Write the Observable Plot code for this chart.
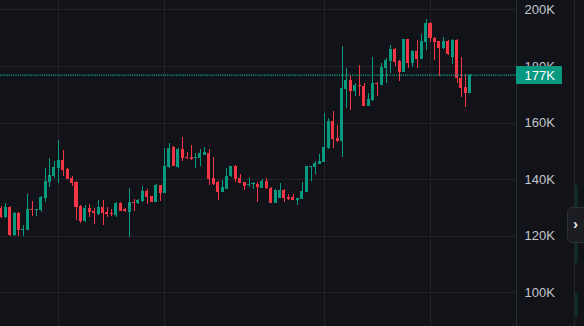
<!DOCTYPE html>
<html><head><meta charset="utf-8">
<script src="https://cdn.jsdelivr.net/npm/d3@7"></script>
<script src="https://cdn.jsdelivr.net/npm/@observablehq/plot@0.6"></script>
<style>
html,body{margin:0;padding:0;background:#121318;overflow:hidden}
#chart{position:relative;width:584px;height:326px}
#chart svg{display:block}
.sep{position:absolute;left:574px;top:0;width:1px;height:326px;background:#24262c}
.strip{position:absolute;left:575px;width:3px;background:#0f2a27}
.btn{position:absolute;left:567px;top:207px;width:22px;height:36px;background:#1b1d22;border:1px solid #2c2f36;border-radius:5px;box-sizing:border-box;color:#e6e8ec;font:bold 15px "Liberation Sans",Arial,sans-serif;line-height:32px;padding-left:5px}
</style></head><body><div id="chart"></div>
<script>
const opens = [129.9,126.6,130.2,120.3,128.1,121.9,122.1,129.5,129.1,129.1,
133.5,139.1,141.1,144.1,146.8,143.6,140.3,139.0,130.5,125.2,
129.7,128.8,127.7,130.2,128.5,128.2,127.4,131.6,129.5,128.3,
132.1,131.5,132.4,135.8,134.1,132.1,138.0,135.2,144.2,151.5,
144.4,150.7,148.0,148.0,147.6,147.5,148.7,149.4,140.4,138.9,
135.6,136.6,141.0,144.7,140.4,138.9,137.8,138.2,138.4,137.0,
139.4,136.9,131.6,133.4,136.3,133.8,133.8,132.7,133.0,135.6,
144.3,144.3,145.4,146.1,150.9,160.7,154.5,153.5,171.9,175.1,
171.3,173.3,172.9,166.0,168.0,174.1,173.3,179.4,181.9,186.0,
181.8,178.0,189.5,181.2,185.3,182.5,188.6,195.3,190.0,188.8,
186.2,189.0,183.2,189.2,175.7,172.5,170.6];
const highs = [130.5,131.6,130.7,128.4,128.4,123.8,134.8,132.3,129.6,134.2,
143.9,147.4,146.4,153.9,150.3,143.8,141.1,139.4,130.9,130.9,
131.2,129.7,132.7,132.7,130.3,129.5,131.8,131.8,129.9,137.0,
133.0,133.0,137.6,136.5,134.2,138.3,138.1,150.9,152.7,151.8,
150.9,155.0,149.5,152.1,149.3,150.7,151.3,150.7,147.7,139.5,
139.7,144.0,144.8,145.0,141.8,139.0,140.4,138.9,138.9,140.2,
140.3,137.1,136.5,138.6,136.7,134.8,134.8,133.4,138.9,144.7,
144.7,146.4,148.9,163.4,161.5,164.1,159.2,187.1,179.2,176.8,
173.9,180.4,173.9,170.4,183.3,174.5,181.2,182.7,187.4,186.2,
182.1,189.7,189.7,185.5,189.2,191.3,196.6,195.7,190.1,189.0,
190.3,189.2,189.4,189.5,183.2,177.0,177.0];
const lows = [126.3,126.3,120.1,120.1,119.9,119.9,121.9,127.0,127.0,128.5,
132.1,137.4,140.5,138.5,141.2,139.9,137.6,125.6,124.7,124.9,
126.8,124.1,127.4,123.8,126.8,127.0,126.8,128.6,128.3,119.7,
128.8,131.2,132.1,131.2,131.9,131.9,132.4,135.1,144.0,144.7,
144.1,146.5,147.3,146.7,143.8,144.6,148.6,137.8,137.8,132.7,
135.5,136.5,140.8,139.1,138.7,136.2,137.4,136.5,132.1,136.9,
136.6,131.5,131.5,133.4,131.9,132.8,132.5,130.9,132.9,135.5,
139.5,141.8,145.3,146.0,150.7,151.1,153.3,148.0,165.3,164.5,
169.5,169.5,165.9,165.9,167.6,169.4,173.2,174.1,177.6,180.1,
174.8,177.9,179.4,179.8,179.4,182.4,185.8,188.5,182.1,176.6,
186.0,183.9,180.7,173.9,169.2,165.6,170.5];
const closes = [126.6,130.2,120.3,128.1,122.1,122.4,129.5,129.1,129.5,133.8,
139.4,141.5,144.2,146.8,143.3,140.1,138.8,130.3,125.2,129.7,
128.3,128.0,130.1,128.1,127.6,127.6,131.6,128.8,128.8,131.8,
131.5,132.7,135.8,133.7,132.1,138.0,135.2,144.7,151.2,144.8,
150.7,147.5,147.5,147.0,148.0,149.2,149.5,140.0,138.2,135.4,
137.2,141.1,144.7,140.0,138.8,137.7,138.2,138.6,137.1,139.5,
136.8,131.6,136.3,136.2,133.5,132.9,132.7,133.3,135.8,144.7,
144.7,145.6,146.4,151.4,160.7,154.2,153.5,172.1,175.1,171.3,
173.3,172.9,166.0,168.3,173.9,173.5,179.8,182.1,186.0,181.5,
178.0,189.5,181.2,185.3,182.5,188.8,195.3,189.9,188.6,186.2,
188.8,184.1,189.2,175.7,172.3,170.6,176.8];
const yTicks = [100,120,140,160,180,200];
const gridIdx = [13,37,73,97];

const UP = "#089981", DOWN = "#f23645";
const candles = opens.map((o,i)=>({i, o, h: highs[i], l: lows[i], c: closes[i]}));
const lastPrice = closes[closes.length-1];
const col = d => d.c >= d.o ? UP : DOWN;

const chart = Plot.plot({
  width: 584, height: 326,
  marginLeft: 0, marginRight: 68, marginTop: 0, marginBottom: 0,
  style: {background: "#121318", color: "#c3c6ce", fontFamily: "'Liberation Sans', Arial, sans-serif", fontSize: "13px"},
  x: {type: "linear", domain: [-0.1751, 116.435], axis: null},
  y: {domain: [88.13, 203.32], axis: null},
  color: {type: "identity"},
  marks: [
    Plot.ruleY(yTicks, {stroke: "#212329", shapeRendering: "crispEdges"}),
    Plot.ruleX(gridIdx, {stroke: "#212329", shapeRendering: "crispEdges"}),
    Plot.ruleX(candles, {x: "i", y1: "l", y2: "h", stroke: col, strokeWidth: 1, shapeRendering: "crispEdges"}),
    Plot.rect(candles, {x1: d => d.i - 0.34, x2: d => d.i + 0.34, y1: "o", y2: "c", fill: col, shapeRendering: "crispEdges"}),
    Plot.ruleY([lastPrice], {stroke: "#0aa88d", strokeWidth: 1.2, strokeDasharray: "1.2,1", dy: -0.5}),
    Plot.axisY({anchor: "right", ticks: yTicks, tickSize: 0, tickPadding: 8, tickFormat: d => d + "K",
      fill: "#c3c6ce", fontSize: 13, textAnchor: "start"})
  ]
});

const host = document.getElementById("chart");
host.appendChild(chart);

// price-scale separator and current price label, positioned with the plot's scales
const svg = d3.select(chart);
const xr = chart.scale("x").range;
const yS = chart.scale("y");
const xEdge = Math.round(xr[1]) + 0.5;
svg.append("line").attr("x1", xEdge).attr("x2", xEdge).attr("y1", 0).attr("y2", 326)
  .attr("stroke", "#2a2c33");
const py = yS.apply(lastPrice);
const g = svg.append("g");
g.append("rect").attr("x", Math.round(xr[1])).attr("y", Math.round(py - 9)).attr("width", 46).attr("height", 18)
  .attr("fill", UP).attr("rx", 1);
g.append("text").attr("x", Math.round(xr[1]) + 8.5).attr("y", py).attr("dy", "0.36em")
  .attr("text-anchor", "start")
  .attr("fill", "#ffffff").attr("font-size", 13).attr("font-family", "'Liberation Sans', Arial, sans-serif")
  .text(Math.round(lastPrice) + "K");

// right strip decoration
const sep = document.createElement("div"); sep.className = "sep"; host.appendChild(sep);
[[185, 78], [293, 24]].forEach(([t, h]) => {
  const s = document.createElement("div"); s.className = "strip";
  s.style.top = t + "px"; s.style.height = h + "px"; host.appendChild(s);
});
const btn = document.createElement("div"); btn.className = "btn"; btn.textContent = "›"; host.appendChild(btn);
</script>
</body></html>
